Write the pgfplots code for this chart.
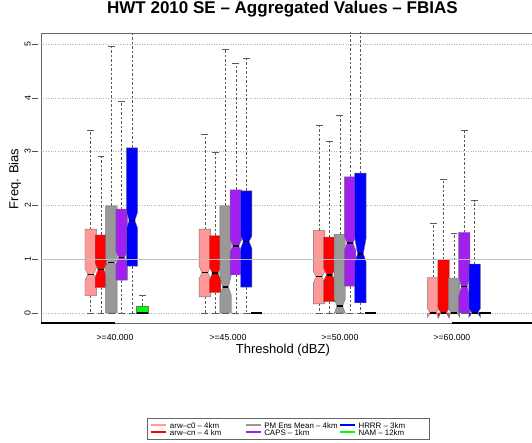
\documentclass[border=0pt]{standalone}
\usepackage{fontspec}
\setmainfont{Liberation Sans}
\usepackage{pgfplots}
\pgfplotsset{compat=1.18}
\usepgfplotslibrary{statistics}

\definecolor{cPink}{RGB}{255,153,153}
\definecolor{cRed}{RGB}{255,0,0}
\definecolor{cGray}{RGB}{153,153,153}
\definecolor{cPurple}{RGB}{160,32,240}
\definecolor{cBlue}{RGB}{0,0,255}
\definecolor{cGreen}{RGB}{0,255,0}
\definecolor{vortex}{RGB}{25,25,160}

% notched boxes, drawn the way R's boxplot(notch=TRUE) does
\pgfplotsset{
  boxplot/draw direction=y,
  boxplot/lower notch/.initial=0,
  boxplot/upper notch/.initial=0,
  boxplot/notch depth/.initial=0.25,
  boxplot/draw/box/.code={%
    \pgfmathsetmacro\nda{\pgfkeysvalueof{/pgfplots/boxplot/notch depth}}%
    \pgfmathsetmacro\ndb{1-\nda}%
    \edef\nlo{\pgfkeysvalueof{/pgfplots/boxplot/lower notch}}%
    \edef\nup{\pgfkeysvalueof{/pgfplots/boxplot/upper notch}}%
    \draw[/pgfplots/boxplot/every box/.try]
      (boxplot box cs:\pgfplotsboxplotvalue{lower quartile},0)
      -- (boxplot box cs:\nlo,0)
      -- (boxplot box cs:\pgfplotsboxplotvalue{median},\nda)
      -- (boxplot box cs:\nup,0)
      -- (boxplot box cs:\pgfplotsboxplotvalue{upper quartile},0)
      -- (boxplot box cs:\pgfplotsboxplotvalue{upper quartile},1)
      -- (boxplot box cs:\nup,1)
      -- (boxplot box cs:\pgfplotsboxplotvalue{median},\ndb)
      -- (boxplot box cs:\nlo,1)
      -- (boxplot box cs:\pgfplotsboxplotvalue{lower quartile},1)
      -- cycle;
  },
  boxplot/draw/median/.code={%
    \pgfmathsetmacro\nda{\pgfkeysvalueof{/pgfplots/boxplot/notch depth}}%
    \pgfmathsetmacro\ndb{1-\nda}%
    \draw[/pgfplots/boxplot/every median/.try]
      (boxplot box cs:\pgfplotsboxplotvalue{median},\nda)
      -- (boxplot box cs:\pgfplotsboxplotvalue{median},\ndb);
  },
  boxplot/draw/lower whisker/.code={%
    \draw[/pgfplots/boxplot/every whisker/.try, dash pattern=on 2.5pt off 2pt]
      (boxplot cs:\pgfplotsboxplotvalue{lower quartile})
      -- (boxplot cs:\pgfplotsboxplotvalue{lower whisker});
    \draw[/pgfplots/boxplot/every whisker/.try]
      (boxplot whisker cs:\pgfplotsboxplotvalue{lower whisker},0)
      -- (boxplot whisker cs:\pgfplotsboxplotvalue{lower whisker},1);
  },
  boxplot/draw/upper whisker/.code={%
    \draw[/pgfplots/boxplot/every whisker/.try, dash pattern=on 2.5pt off 2pt]
      (boxplot cs:\pgfplotsboxplotvalue{upper quartile})
      -- (boxplot cs:\pgfplotsboxplotvalue{upper whisker});
    \draw[/pgfplots/boxplot/every whisker/.try]
      (boxplot whisker cs:\pgfplotsboxplotvalue{upper whisker},0)
      -- (boxplot whisker cs:\pgfplotsboxplotvalue{upper whisker},1);
  },
  boxplot/box extend=0.1,
  boxplot/whisker extend=0.06,
  boxplot/every whisker/.style={black!65, line width=0.45pt},
  boxplot/every median/.style={black, line width=1.5pt},
}

% colour, position, lower whisker, Q1, median, Q3, upper whisker, notch low, notch high
\newcommand{\nbox}[9]{%
  \addplot[forget plot, black!60,
    boxplot/every box/.style={fill=#1, draw=black!55, line width=0.4pt},
    boxplot prepared={draw position=#2, lower whisker=#3, lower quartile=#4,
      median=#5, upper quartile=#6, upper whisker=#7,
      lower notch=#8, upper notch=#9}]
    coordinates {};}
% NAM boxes are drawn without notches
\newcommand{\pbox}[6]{%
  \addplot[forget plot, black!60,
    boxplot/every box/.style={fill=cGreen, draw=black!55, line width=0.4pt},
    boxplot prepared={draw position=#1, lower whisker=#2, lower quartile=#3,
      median=#4, upper quartile=#5, upper whisker=#6,
      lower notch=#4, upper notch=#4, notch depth=0}]
    coordinates {};}

\begin{document}
\begin{tikzpicture}
\useasboundingbox (0,0) rectangle (532pt,442pt);
\begin{axis}[
  at={(41pt,119pt)}, anchor=south west,
  scale only axis, width=504pt, height=290pt,
  xmin=0.339, xmax=4.752, ymin=-0.186, ymax=5.204,
  axis line style={black!60, line width=0.5pt},
  xtick={0.987,1.976,2.957,3.937},
  xticklabels={>=40.000,>=45.000,>=50.000,>=60.000},
  xtick style={draw=none},
  xticklabel style={font=\fontsize{8.7}{10}\selectfont, anchor=north, inner sep=0pt, yshift=-5pt},
  ytick={0,1,2,3,4,5},
  ytick style={black!70, xshift=-3pt},
  tick align=outside, major tick length=6pt,
  yticklabel style={font=\fontsize{8.7}{10}\selectfont, rotate=90, anchor=south, inner sep=0pt},
  yticklabel shift=4pt,
  /pgf/number format/assume math mode=true,
  ymajorgrids, grid style={black!30, dotted, line width=0.5pt},
  title={HWT 2010 SE -- Aggregated Values -- FBIAS},
  title style={font=\bfseries\fontsize{17}{20}\selectfont, at={(rel axis cs:0.479,1)}, anchor=center, yshift=18pt},
  xlabel={Threshold (dBZ)},
  xlabel style={font=\fontsize{13}{15}\selectfont, at={(rel axis cs:0.48,0)}, anchor=center, yshift=-27.5pt},
  ylabel={Freq. Bias},
  ylabel style={font=\fontsize{13}{15}\selectfont, at={(rel axis cs:0,0.497)}, anchor=center, yshift=26pt},
  legend image code/.code={\draw[#1, line width=2.3pt] (0pt,0pt) -- (15pt,0pt);},
  legend columns=3,
  legend style={font=\fontsize{7.9}{8}\selectfont, draw=black!60, line width=0.4pt,
    at={(rel axis cs:0.2103,-0.3266)}, anchor=north west,
    inner xsep=3pt, inner ysep=4pt, row sep=0.3pt, column sep=0pt,
    nodes={inner sep=0.5pt, text height=5.7pt, text depth=0pt}},
  legend cell align=left,
]
% >=40.000
\nbox{cPink}  {0.774}{0}{0.32}{0.72} {1.56}{3.40}{0.61}{0.83}
\nbox{cRed}   {0.864}{0}{0.47}{0.81} {1.45}{2.92}{0.67}{0.92}
\nbox{cGray}  {0.955}{0}{0}   {0.935}{1.99}{4.96}{0.88}{0.99}
\nbox{cPurple}{1.045}{0}{0.61}{1.035}{1.93}{3.94}{0.92}{1.14}
\nbox{cBlue}  {1.136}{0}{0.87}{1.72} {3.07}{6.50}{1.57}{1.88}
\pbox{1.226}{0}{0}{0}{0.13}{0.33}
% >=45.000
\nbox{cPink}  {1.774}{0}{0.30}{0.75} {1.56}{3.33}{0.64}{0.87}
\nbox{cRed}   {1.864}{0}{0.38}{0.74} {1.44}{2.99}{0.61}{0.85}
\nbox{cGray}  {1.955}{0}{0}   {0.48} {1.99}{4.91}{0.33}{0.70}
\nbox{cPurple}{2.045}{0}{0.71}{1.245}{2.29}{4.64}{1.14}{1.36}
\nbox{cBlue}  {2.136}{0}{0.48}{1.33} {2.27}{4.74}{1.20}{1.43}
\pbox{2.226}{0}{0}{0}{0}{0}
% >=50.000
\nbox{cPink}  {2.774}{0}{0.17}{0.675}{1.53}{3.49}{0.56}{0.77}
\nbox{cRed}   {2.864}{0}{0.21}{0.71} {1.41}{3.20}{0.60}{0.83}
\nbox{cGray}  {2.955}{0}{0}   {0.13} {1.46}{3.67}{-0.02}{0.27}
\nbox{cPurple}{3.045}{0}{0.50}{1.30} {2.53}{6.50}{1.17}{1.42}
\nbox{cBlue}  {3.136}{0}{0.19}{1.10} {2.60}{6.50}{0.95}{1.39}
\pbox{3.226}{0}{0}{0}{0}{0}
% >=60.000
\nbox{cPink}  {3.774}{0}{0}{0}   {0.66}{1.66}{-0.08}{0.08}
\nbox{cRed}   {3.864}{0}{0}{0}   {0.99}{2.48}{-0.10}{0.10}
\nbox{cGray}  {3.955}{0}{0}{0}   {0.65}{1.49}{-0.08}{0.08}
\nbox{cPurple}{4.045}{0}{0}{0.49}{1.50}{3.40}{0.30}{0.68}
\nbox{cBlue}  {4.136}{0}{0}{0}   {0.91}{2.09}{-0.08}{0.08}
\pbox{4.226}{0}{0}{0}{0}{0}
% reference line at bias = 1
\addplot[forget plot, black!25, line width=0.8pt] coordinates {(0.339,1) (4.752,1)};
\draw[black, line width=1.1pt] (axis cs:0.339,-0.186) -- (axis cs:0.987,-0.186);
\draw[black, line width=1.1pt] (axis cs:3.937,-0.186) -- (axis cs:4.752,-0.186);
\node[anchor=west, inner sep=0pt, text=vortex, font=\bfseries\fontsize{8.5}{10}\selectfont]
  at (rel axis cs:0,0) [yshift=-24.7pt] {VORTEX DOMAIN};
\addlegendimage{cPink}   \addlegendentry{\makebox[76pt][l]{\hspace{2pt}arw--c0 -- 4km}}
\addlegendimage{cGray}   \addlegendentry{\makebox[76pt][l]{\hspace{2pt}PM Ens Mean -- 4km}}
\addlegendimage{cBlue}   \addlegendentry{\makebox[69pt][l]{\hspace{2pt}HRRR -- 3km}}
\addlegendimage{cRed}    \addlegendentry{\makebox[76pt][l]{\hspace{2pt}arw--cn -- 4 km}}
\addlegendimage{cPurple} \addlegendentry{\makebox[76pt][l]{\hspace{2pt}CAPS -- 1km}}
\addlegendimage{cGreen}  \addlegendentry{\makebox[69pt][l]{\hspace{2pt}NAM -- 12km}}
\end{axis}
\end{tikzpicture}
\end{document}
